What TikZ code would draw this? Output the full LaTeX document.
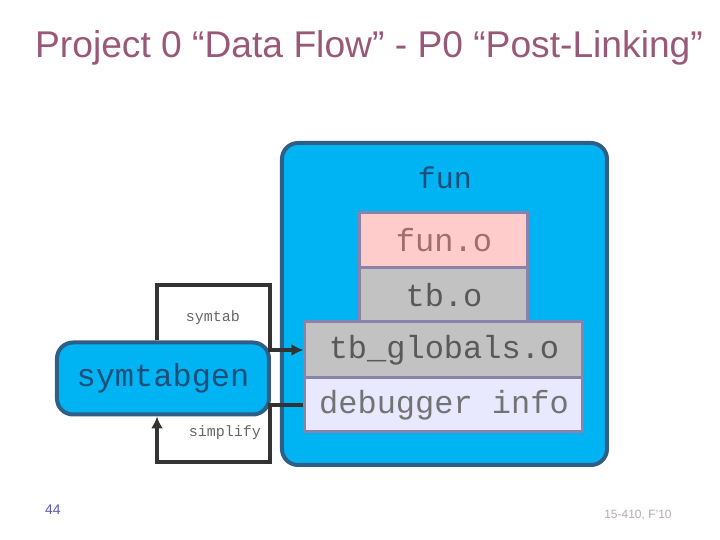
\documentclass[tikz,border=0pt]{standalone}
\usepackage{fontspec}
\setmainfont{Liberation Sans}
\newfontfamily\monof{Liberation Mono}
\usetikzlibrary{arrows.meta}
\definecolor{titlec}{HTML}{9A5878}
\definecolor{cyanbox}{HTML}{00B4F4}
\definecolor{cyanedge}{HTML}{2F5E86}
\definecolor{funtext}{HTML}{1F4E79}
\definecolor{pinkbox}{HTML}{FFCCCC}
\definecolor{pinktext}{HTML}{A06E6E}
\definecolor{graybox}{HTML}{C2C2C2}
\definecolor{lavbox}{HTML}{E8E8FF}
\definecolor{inedge}{HTML}{8A82AA}
\definecolor{wire}{HTML}{333333}
\tikzset{
  px/.style={x=0.5pt,y=-0.5pt},
  outerbox/.style={draw=cyanedge,line width=2pt,fill=cyanbox,rounded corners=8pt},
  layer/.style={draw=inedge,line width=1.5pt,inner sep=0pt},
  monolbl/.style={font=\monof\fontsize{16}{18}\selectfont},
  wirestyle/.style={draw=wire,line width=2pt,-{Latex[length=6pt,width=6pt]}},
  smalllbl/.style={font=\monof\fontsize{7.5}{9}\selectfont,text=gray!80!black}
}
\begin{document}
\begin{tikzpicture}[px]
\useasboundingbox (0,0) rectangle (720,540);
\node[text=titlec,font=\fontsize{18.6}{22}\selectfont] (title) at (369,48) {Project 0 “Data Flow” - P0 “Post-Linking”};
% outer fun box
\path[outerbox] (282,143) rectangle (607,465);
\node[monolbl,text=funtext,font=\monof\fontsize{15}{18}\selectfont] (funlbl) at (445,178) {fun};
% layers
\node[layer,fill=pinkbox,minimum width=84pt,minimum height=27.5pt,text=pinktext,monolbl] (funo) at (444,240.5) {fun.o};
\node[layer,fill=graybox,minimum width=84pt,minimum height=27pt,text=black!65,monolbl] (tbo) at (444,295) {tb.o};
\node[layer,fill=graybox,minimum width=139pt,minimum height=28pt,text=black!65,monolbl] (tbg) at (444,350) {tb\_globals.o};
\node[layer,fill=lavbox,minimum width=139pt,minimum height=27pt,text=black!55,monolbl] (dbg) at (444,405) {debugger info};
% symtabgen
\node[outerbox,minimum width=106pt,minimum height=36pt,text=funtext,monolbl] (stg) at (163,378.5) {symtabgen};
% connectors
\coordinate (a1) at (157,285);
\coordinate (a2) at (270,285);
\coordinate (b1) at (157,462);
\coordinate (b2) at (270,462);
\draw[wirestyle] (stg.north -| a1) -- (a1) -- (a2) -- (a2 |- tbg.west) -- (tbg.west);
\draw[wirestyle] (dbg.west) -- (dbg.west -| b2) -- (b2) -- (b1) -- (stg.south -| b1);
\node[smalllbl] (symtab) at (213,318) {symtab};
\node[smalllbl] (simplify) at (225,433) {simplify};
% footer
\node[text=blue!30!gray,font=\fontsize{7}{8}\selectfont] (pg) at (53,510) {44};
\node[text=titlec!50!gray!60,font=\fontsize{6}{7}\selectfont] (course) at (638,515) {15-410, F'10};
\end{tikzpicture}
\end{document}
